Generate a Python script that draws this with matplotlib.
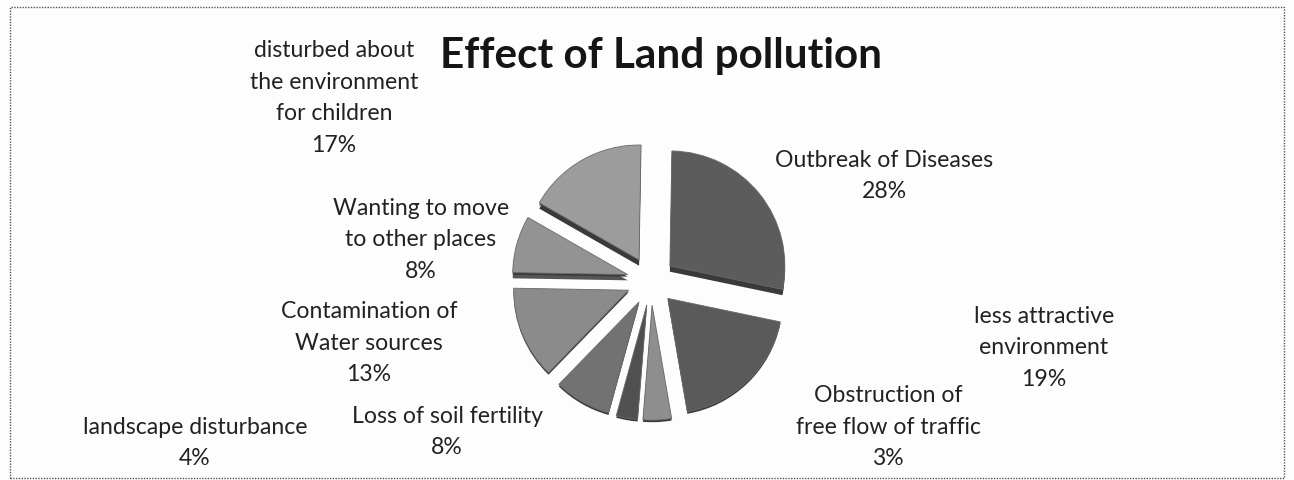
import matplotlib
matplotlib.use("Agg")
import matplotlib.pyplot as plt
from matplotlib.patches import Rectangle

W, H = 1294, 480

labels = [
    "Outbreak of Diseases",
    "less attractive\nenvironment",
    "landscape disturbance",
    "Obstruction of\nfree flow of traffic",
    "Loss of soil fertility",
    "Contamination of\nWater sources",
    "Wanting to move\nto other places",
    "disturbed about\nthe environment\nfor children",
]
shares = [28, 19, 4, 3, 8, 13, 8, 17]
colors = ["#5c5c5c", "#5a5a5a", "#8e8e8e", "#505050", "#727272", "#8b8b8b", "#939393", "#9c9c9c"]
thick_side = ["#3a3a3a", "none", "none", "none", "none", "none", "#555555", "#3a3a3a"]
thin_side = ["#3a3a3a"] * len(shares)

# label anchor centres in pixels, top-left origin
label_xy = [(884, 176), (1044, 348), (195, 443), (888, 427), (447, 432), (369, 343), (421, 240), (334, 98)]

PIE_R = 115
PIE_CX, PIE_CY = 651, 281
EXPLODE = [0.21] * len(shares)
START = 89

plt.rcParams["font.family"] = ["Lato", "DejaVu Sans"]

fig = plt.figure(figsize=(W / 100, H / 100), dpi=100, facecolor="#fdfdfd")

ax_w, ax_h = 2.5 * PIE_R, 2.5 * PIE_R
ax = fig.add_axes([(PIE_CX - ax_w / 2) / W, 1 - (PIE_CY + ax_h / 2) / H, ax_w / W, ax_h / H])
ax.patch.set_alpha(0)

# dark copies underneath give the 3d edge, only the upper slices show it properly
for offset, side in [(-0.05, thick_side), (-0.018, thin_side)]:
    ax.pie(shares, explode=EXPLODE, colors=side, startangle=START,
           counterclock=False, center=(0, offset), frame=False)
ax.pie(shares, explode=EXPLODE, colors=colors, startangle=START, counterclock=False,
       frame=False, wedgeprops={"edgecolor": "#6a6a6a", "linewidth": 0.6})
ax.set_xlim(-1.25, 1.25)
ax.set_ylim(-1.25, 1.25)
ax.set_aspect("equal")

for name, share, (x, y) in zip(labels, shares, label_xy):
    fig.text(x / W, 1 - y / H, f"{name}\n{share}%", ha="center", va="center",
             fontsize=16.6, color="#222222", linespacing=1.62)

fig.text(661 / W, 1 - 56 / H, "Effect of Land pollution", ha="center", va="center",
         fontsize=30.4, fontweight="bold", color="#151515")

# dotted scan border
fig.add_artist(Rectangle((10 / W, 1 - 478 / H), 1274 / W, 471 / H, transform=fig.transFigure,
                         fill=False, edgecolor="#555555", linewidth=1.0, linestyle=(0, (1, 1))))

fig.savefig("out.png", dpi=100, facecolor=fig.get_facecolor())
